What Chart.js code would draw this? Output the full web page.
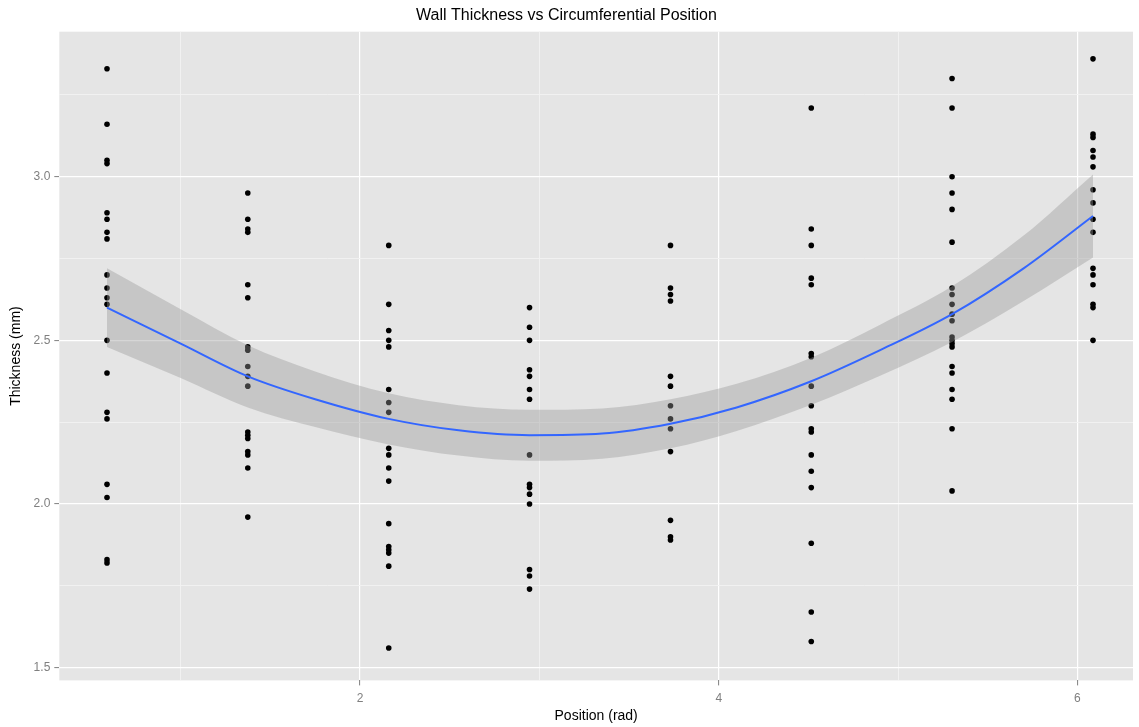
<!DOCTYPE html>
<html>
<head>
<meta charset="utf-8">
<title>Wall Thickness vs Circumferential Position</title>
<script src="https://cdn.jsdelivr.net/npm/chart.js@4.4.1/dist/chart.umd.min.js"></script>
<style>
    html, body { margin: 0; padding: 0; background: #fff; }
    #wrap { width: 1139px; height: 727px; }
</style>
</head>
<body>
<div id="wrap"><canvas id="thicknessChart"></canvas></div>
<script>
// Circumferential positions (rad) where thickness was measured
const positions = [0.589, 1.374, 2.160, 2.945, 3.731, 4.516, 5.301, 6.087];

// Measured thickness (mm) at each position
const pos1Values = [3.33, 3.16, 3.05, 3.04, 2.89, 2.87, 2.83, 2.81, 2.70, 2.66, 2.63, 2.61, 2.50, 2.40, 2.28, 2.26, 2.06, 2.02, 1.83, 1.82];
const pos2Values = [2.95, 2.87, 2.84, 2.83, 2.67, 2.63, 2.48, 2.47, 2.42, 2.39, 2.36, 2.22, 2.21, 2.20, 2.16, 2.15, 2.11, 1.96];
const pos3Values = [2.79, 2.61, 2.53, 2.50, 2.48, 2.35, 2.31, 2.28, 2.17, 2.15, 2.11, 2.07, 1.94, 1.87, 1.86, 1.85, 1.81, 1.56];
const pos4Values = [2.60, 2.54, 2.50, 2.41, 2.39, 2.35, 2.32, 2.15, 2.06, 2.05, 2.03, 2.00, 1.80, 1.78, 1.74];
const pos5Values = [2.79, 2.66, 2.64, 2.62, 2.39, 2.36, 2.30, 2.26, 2.23, 2.16, 1.95, 1.90, 1.89];
const pos6Values = [3.21, 2.84, 2.79, 2.69, 2.67, 2.46, 2.45, 2.36, 2.30, 2.23, 2.22, 2.15, 2.10, 2.05, 1.88, 1.67, 1.58];
const pos7Values = [3.30, 3.21, 3.00, 2.95, 2.90, 2.80, 2.66, 2.64, 2.61, 2.58, 2.56, 2.51, 2.50, 2.49, 2.48, 2.42, 2.40, 2.35, 2.32, 2.23, 2.04];
const pos8Values = [3.36, 3.13, 3.12, 3.08, 3.06, 3.03, 2.96, 2.92, 2.87, 2.83, 2.72, 2.70, 2.67, 2.61, 2.60, 2.50];

// Smoothed fit and its confidence band
const fitX    = [0.589, 1.0,  1.374, 1.75, 2.16,  2.55,  2.945, 3.35,  3.731, 4.1,   4.516, 4.9,  5.301, 5.7,  6.087];
const fitY    = [2.60,  2.49, 2.39,  2.32, 2.26,  2.225, 2.21,  2.215, 2.245, 2.295, 2.375, 2.47, 2.58,  2.72, 2.88];
const bandLow = [2.48,  2.385,2.295, 2.235,2.182, 2.148, 2.132, 2.138, 2.170, 2.223, 2.303, 2.392,2.495, 2.62, 2.753];
const bandHigh= [2.72,  2.595,2.485, 2.405,2.338, 2.302, 2.288, 2.292, 2.320, 2.367, 2.447, 2.548,2.665, 2.82, 3.007];

// Axis breaks
const xMajorTicks = [2, 4, 6];
const xMinorTicks = [1, 3, 5];
const yMajorTicks = [1.5, 2.0, 2.5, 3.0];
const yMinorTicks = [1.75, 2.25, 2.75, 3.25];

const allColumns = [pos1Values, pos2Values, pos3Values, pos4Values, pos5Values, pos6Values, pos7Values, pos8Values];
const scatterPoints = [];
allColumns.forEach((vals, i) => {
    vals.forEach(v => scatterPoints.push({ x: positions[i], y: v }));
});

const toXY = (xs, ys) => xs.map((x, i) => ({ x: x, y: ys[i] }));

const isMajor = (list, v) => list.some(t => Math.abs(t - v) < 1e-6);

// grey panel behind the plot, ggplot style
const panelBackground = {
    id: 'panelBackground',
    beforeDraw(chart) {
        const { ctx, chartArea } = chart;
        ctx.save();
        ctx.fillStyle = '#E5E5E5';
        ctx.fillRect(chartArea.left, chartArea.top, chartArea.right - chartArea.left, chartArea.bottom - chartArea.top);
        ctx.restore();
    }
};

const gridFor = (majors) => ({
    color: (c) => isMajor(majors, c.tick.value) ? '#FFFFFF' : '#F2F2F2',
    lineWidth: (c) => isMajor(majors, c.tick.value) ? 1.2 : 0.9,
    tickColor: (c) => isMajor(majors, c.tick.value) ? '#7F7F7F' : 'rgba(0,0,0,0)',
    tickWidth: 1,
    tickLength: 5,
    drawTicks: true
});

Chart.defaults.font.family = "'Liberation Sans', Arial, sans-serif";

new Chart(document.getElementById('thicknessChart').getContext('2d'), {
    type: 'scatter',
    data: {
        datasets: [{
            type: 'line',
            label: 'Fit',
            data: toXY(fitX, fitY),
            borderColor: '#3366FF',
            borderWidth: 2,
            pointRadius: 0,
            cubicInterpolationMode: 'monotone',
            fill: false,
            order: 1
        }, {
            type: 'line',
            label: 'Upper',
            data: toXY(fitX, bandHigh),
            borderWidth: 0,
            borderColor: 'rgba(0,0,0,0)',
            backgroundColor: 'rgba(153,153,153,0.4)',
            pointRadius: 0,
            cubicInterpolationMode: 'monotone',
            fill: '+1',
            order: 2
        }, {
            type: 'line',
            label: 'Lower',
            data: toXY(fitX, bandLow),
            borderWidth: 0,
            borderColor: 'rgba(0,0,0,0)',
            pointRadius: 0,
            cubicInterpolationMode: 'monotone',
            fill: false,
            order: 3
        }, {
            label: 'Thickness',
            data: scatterPoints,
            backgroundColor: '#000',
            borderWidth: 0,
            pointRadius: 2.8,
            order: 4
        }]
    },
    options: {
        responsive: true,
        maintainAspectRatio: false,
        animation: false,
        layout: { padding: { left: 0, right: 6, top: 0, bottom: 0 } },
        plugins: {
            legend: { display: false },
            tooltip: { enabled: false },
            title: {
                display: true,
                text: 'Wall Thickness vs Circumferential Position',
                color: '#000',
                font: { size: 16, weight: 'normal' },
                padding: { top: 6, bottom: 6.5 }
            }
        },
        scales: {
            x: {
                type: 'linear',
                min: 0.323,
                max: 6.31,
                afterFit: (s) => { s.height = 46.6; },
                afterBuildTicks: (s) => {
                    s.ticks = xMinorTicks.concat(xMajorTicks).sort((a, b) => a - b).map(v => ({ value: v }));
                },
                ticks: {
                    autoSkip: false,
                    maxRotation: 0,
                    padding: 6,
                    color: '#7F7F7F',
                    font: { size: 12 },
                    callback: (v) => isMajor(xMajorTicks, v) ? String(v) : ''
                },
                grid: gridFor(xMajorTicks),
                border: { display: false },
                title: {
                    display: true,
                    text: 'Position (rad)',
                    color: '#000',
                    font: { size: 14 },
                    padding: { top: 0, bottom: 2 }
                }
            },
            y: {
                type: 'linear',
                min: 1.461,
                max: 3.443,
                afterFit: (s) => { s.width = 59.3; },
                afterBuildTicks: (s) => {
                    s.ticks = yMinorTicks.concat(yMajorTicks).sort((a, b) => a - b).map(v => ({ value: v }));
                },
                ticks: {
                    autoSkip: false,
                    padding: 4,
                    color: '#7F7F7F',
                    font: { size: 12 },
                    callback: (v) => isMajor(yMajorTicks, v) ? v.toFixed(1) : ''
                },
                grid: gridFor(yMajorTicks),
                border: { display: false },
                title: {
                    display: true,
                    text: 'Thickness (mm)',
                    color: '#000',
                    font: { size: 14 },
                    padding: { top: 8, bottom: 0 }
                }
            }
        }
    },
    plugins: [panelBackground]
});
</script>
</body>
</html>
